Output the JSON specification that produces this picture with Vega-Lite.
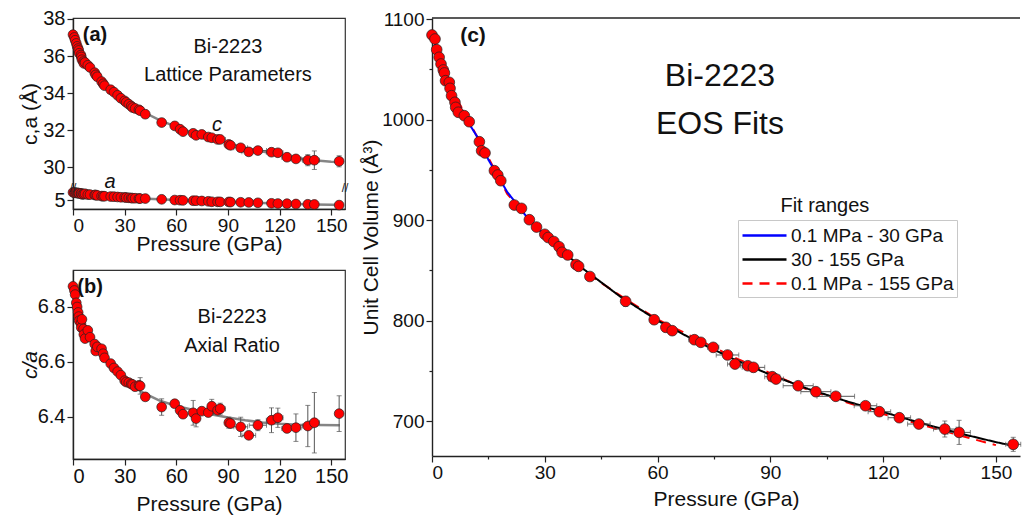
{
  "$schema": "https://vega.github.io/schema/vega-lite/v6.json",
  "padding": {"left": 18, "top": 8, "right": 0, "bottom": 0},
  "background": "white",
  "config": {
    "font": "Liberation Sans",
    "view": {"stroke": "#333333", "strokeWidth": 1.2},
    "axis": {"grid": false, "domainColor": "#222222", "domainWidth": 1.4, "tickColor": "#222222", "tickWidth": 1.2, "tickSize": 6, "labelColor": "#111111", "titleColor": "#111111", "labelFontSize": 20, "titleFontSize": 21, "titleFontWeight": "normal", "labelPadding": 2, "labelFont": "Liberation Sans", "titleFont": "Liberation Sans", "labelOverlap": false}
  },
  "datasets": {
    "pts": [
      {"P":0,"V":1084.1,"c":37.15,"a":5.404,"r":6.875},
      {"P":0.8,"V":1080.1,"c":37.0,"a":5.394,"r":6.86},
      {"P":1.25,"V":1069.5,"c":36.85,"a":5.384,"r":6.845},
      {"P":1.9,"V":1061.9,"c":36.68,"a":5.382,"r":6.815},
      {"P":2.4,"V":1055.2,"c":36.52,"a":5.371,"r":6.8},
      {"P":3.0,"V":1049.3,"c":36.4,"a":5.369,"r":6.78},
      {"P":3.3,"V":1046.3,"c":36.3,"a":5.366,"r":6.765},
      {"P":3.6,"V":1038.6,"c":36.15,"a":5.356,"r":6.75},
      {"P":4.6,"V":1037.0,"c":36.05,"a":5.349,"r":6.74},
      {"P":4.8,"V":1031.0,"c":35.95,"a":5.346,"r":6.725},
      {"P":5.2,"V":1023.7,"c":35.8,"a":5.3,"r":6.755},
      {"P":6.1,"V":1017.1,"c":35.7,"a":5.312,"r":6.72},
      {"P":6.3,"V":1012.1,"c":35.6,"a":5.313,"r":6.7},
      {"P":7.0,"V":1007.2,"c":35.65,"a":5.333,"r":6.685},
      {"P":8.6,"V":1003.8,"c":35.5,"a":5.287,"r":6.715},
      {"P":9.9,"V":997.8,"c":35.38,"a":5.288,"r":6.69},
      {"P":12.6,"V":977.9,"c":35.1,"a":5.266,"r":6.665},
      {"P":13.2,"V":968.9,"c":34.98,"a":5.268,"r":6.64},
      {"P":14.1,"V":966.7,"c":34.88,"a":5.241,"r":6.655},
      {"P":16.6,"V":949.1,"c":34.62,"a":5.208,"r":6.648},
      {"P":17.5,"V":944.8,"c":34.5,"a":5.204,"r":6.63},
      {"P":18.3,"V":939.1,"c":34.4,"a":5.2,"r":6.615},
      {"P":21.9,"V":914.9,"c":34.18,"a":5.184,"r":6.594},
      {"P":23.8,"V":911.6,"c":34.05,"a":5.176,"r":6.578},
      {"P":25.9,"V":900.3,"c":33.88,"a":5.161,"r":6.565},
      {"P":27.8,"V":893.0,"c":33.72,"a":5.146,"r":6.552},
      {"P":30.0,"V":885.8,"c":33.58,"a":5.141,"r":6.532},
      {"P":30.9,"V":882.6,"c":33.5,"a":5.133,"r":6.527},
      {"P":32.4,"V":878.6,"c":33.4,"a":5.119,"r":6.525},
      {"P":33.8,"V":873.4,"c":33.3,"a":5.107,"r":6.52},
      {"P":34.6,"V":867.9,"c":33.22,"a":5.097,"r":6.518},
      {"P":36.1,"V":865.2,"c":33.17,"a":5.095,"r":6.51},
      {"P":38.3,"V":855.7,"c":33.1,"a":5.081,"r":6.515},
      {"P":39.0,"V":853.9,"c":33.05,"a":5.074,"r":6.513},
      {"P":42.0,"V":843.8,"c":32.86,"a":5.077,"r":6.473},
      {"P":51.5,"V":819.1,"c":32.41,"a":5.036,"r":6.436},
      {"P":59.1,"V":800.8,"c":32.23,"a":4.998,"r":6.448},
      {"P":62.2,"V":793.2,"c":32.05,"a":4.989,"r":6.424},
      {"P":63.9,"V":789.9,"c":31.92,"a":4.98,"r":6.41},
      {"P":69.8,"V":780.9,"c":31.83,"a":4.962,"r":6.415},
      {"P":71.5,"V":778.3,"c":31.72,"a":4.961,"r":6.394},
      {"P":74.8,"V":773.3,"c":31.77,"a":4.948,"r":6.421},
      {"P":78.6,"V":765.7,"c":31.63,"a":4.93,"r":6.416},
      {"P":80.6,"V":756.7,"c":31.59,"a":4.906,"r":6.439},
      {"P":84.0,"V":755.0,"c":31.5,"a":4.903,"r":6.424},
      {"P":85.5,"V":753.4,"c":31.5,"a":4.899,"r":6.43},
      {"P":90.5,"V":744.1,"c":31.23,"a":4.896,"r":6.379},
      {"P":91.5,"V":741.8,"c":31.18,"a":4.89,"r":6.376},
      {"P":97.4,"V":735.1,"c":31.05,"a":4.879,"r":6.364},
      {"P":102.1,"V":729.2,"c":30.83,"a":4.868,"r":6.333},
      {"P":107.4,"V":724.6,"c":30.9,"a":4.851,"r":6.37},
      {"P":115.3,"V":715.2,"c":30.81,"a":4.823,"r":6.388},
      {"P":119.0,"V":709.3,"c":30.78,"a":4.812,"r":6.397},
      {"P":124.3,"V":703.3,"c":30.54,"a":4.803,"r":6.358},
      {"P":129.5,"V":697.0,"c":30.45,"a":4.787,"r":6.361},
      {"P":136.4,"V":692.0,"c":30.38,"a":4.772,"r":6.367},
      {"P":140.2,"V":688.7,"c":30.38,"a":4.763,"r":6.379},
      {"P":154.6,"V":676.8,"c":30.32,"a":4.729,"r":6.412}
    ],
    "err": [
      {"P":39.0,"Plo":38,"Phi":40,"V":853.9,"Vlo":851.9,"Vhi":855.9,"c":33.05,"clo":33.0,"chi":33.1,"r":6.513,"rlo":6.483,"rhi":6.543},
      {"P":51.5,"Plo":50.5,"Phi":52.5,"V":819.1,"Vlo":814,"Vhi":824,"c":32.41,"clo":32.36,"chi":32.46,"r":6.436,"rlo":6.406,"rhi":6.466},
      {"P":59.1,"Plo":58.1,"Phi":60.1,"V":800.8,"Vlo":798.8,"Vhi":802.8,"c":32.23,"clo":32.2,"chi":32.26,"r":6.448,"rlo":6.438,"rhi":6.458},
      {"P":69.8,"Plo":68.3,"Phi":71.3,"V":780.9,"Vlo":776.9,"Vhi":784.9,"c":31.83,"clo":31.78,"chi":31.88,"r":6.415,"rlo":6.37,"rhi":6.46},
      {"P":71.5,"Plo":70.5,"Phi":72.5,"V":778.3,"Vlo":776.3,"Vhi":780.3,"c":31.72,"clo":31.69,"chi":31.75,"r":6.394,"rlo":6.364,"rhi":6.424},
      {"P":74.8,"Plo":73.3,"Phi":76.3,"V":773.3,"Vlo":771.3,"Vhi":775.3,"c":31.77,"clo":31.74,"chi":31.8,"r":6.421,"rlo":6.411,"rhi":6.431},
      {"P":78.6,"Plo":75.6,"Phi":81.6,"V":765.7,"Vlo":762.7,"Vhi":768.7,"c":31.63,"clo":31.6,"chi":31.66,"r":6.416,"rlo":6.401,"rhi":6.431},
      {"P":80.6,"Plo":78.6,"Phi":82.6,"V":756.7,"Vlo":753.7,"Vhi":759.7,"c":31.59,"clo":31.56,"chi":31.62,"r":6.439,"rlo":6.414,"rhi":6.464},
      {"P":84.0,"Plo":82,"Phi":86,"V":755.0,"Vlo":753,"Vhi":757,"c":31.5,"clo":31.47,"chi":31.53,"r":6.424,"rlo":6.414,"rhi":6.434},
      {"P":85.5,"Plo":82.5,"Phi":88.5,"V":753.4,"Vlo":751.4,"Vhi":755.4,"c":31.5,"clo":31.47,"chi":31.53,"r":6.43,"rlo":6.41,"rhi":6.45},
      {"P":90.5,"Plo":88.5,"Phi":92.5,"V":744.1,"Vlo":742.1,"Vhi":746.1,"c":31.23,"clo":31.2,"chi":31.26,"r":6.379,"rlo":6.359,"rhi":6.399},
      {"P":91.5,"Plo":89.5,"Phi":93.5,"V":741.8,"Vlo":739.8,"Vhi":743.8,"c":31.18,"clo":31.15,"chi":31.21,"r":6.376,"rlo":6.361,"rhi":6.391},
      {"P":97.4,"Plo":93.4,"Phi":101.4,"V":735.1,"Vlo":733.1,"Vhi":737.1,"c":31.05,"clo":31.02,"chi":31.08,"r":6.364,"rlo":6.329,"rhi":6.399},
      {"P":102.1,"Plo":98.1,"Phi":106.1,"V":729.2,"Vlo":727.2,"Vhi":731.2,"c":30.83,"clo":30.8,"chi":30.86,"r":6.333,"rlo":6.323,"rhi":6.343},
      {"P":107.4,"Plo":102.4,"Phi":112.4,"V":724.6,"Vlo":722.6,"Vhi":726.6,"c":30.9,"clo":30.87,"chi":30.93,"r":6.37,"rlo":6.35,"rhi":6.39},
      {"P":115.3,"Plo":112.3,"Phi":118.3,"V":715.2,"Vlo":712.2,"Vhi":718.2,"c":30.81,"clo":30.73,"chi":30.89,"r":6.388,"rlo":6.343,"rhi":6.433},
      {"P":119.0,"Plo":116,"Phi":122,"V":709.3,"Vlo":707.3,"Vhi":711.3,"c":30.78,"clo":30.72,"chi":30.84,"r":6.397,"rlo":6.362,"rhi":6.432},
      {"P":124.3,"Plo":121.3,"Phi":127.3,"V":703.3,"Vlo":701.3,"Vhi":705.3,"c":30.54,"clo":30.5,"chi":30.58,"r":6.358,"rlo":6.348,"rhi":6.368},
      {"P":129.5,"Plo":126.5,"Phi":132.5,"V":697.0,"Vlo":693,"Vhi":701,"c":30.45,"clo":30.39,"chi":30.51,"r":6.361,"rlo":6.311,"rhi":6.411},
      {"P":136.4,"Plo":133.4,"Phi":139.4,"V":692.0,"Vlo":684,"Vhi":700,"c":30.38,"clo":30.08,"chi":30.68,"r":6.367,"rlo":6.292,"rhi":6.442},
      {"P":140.2,"Plo":137.2,"Phi":143.2,"V":688.7,"Vlo":676.7,"Vhi":700.7,"c":30.38,"clo":29.88,"chi":30.88,"r":6.379,"rlo":6.269,"rhi":6.489},
      {"P":154.6,"Plo":152.6,"Phi":156.6,"V":676.8,"Vlo":669.8,"Vhi":683.8,"c":30.32,"clo":30.02,"chi":30.62,"r":6.412,"rlo":6.347,"rhi":6.477}
    ],
    "fitA": [
      {"P":0,"c":37.05,"a":5.4},{"P":3,"c":36.45,"a":5.365},{"P":6,"c":35.95,"a":5.33},
      {"P":10,"c":35.4,"a":5.29},{"P":15,"c":34.85,"a":5.245},{"P":20,"c":34.35,"a":5.2},
      {"P":25,"c":33.95,"a":5.165},{"P":30,"c":33.6,"a":5.135},{"P":35,"c":33.3,"a":5.105},
      {"P":40,"c":33.02,"a":5.08},{"P":50,"c":32.55,"a":5.04},{"P":60,"c":32.18,"a":5.0},
      {"P":70,"c":31.85,"a":4.96},{"P":80,"c":31.57,"a":4.925},{"P":90,"c":31.3,"a":4.895},
      {"P":100,"c":31.05,"a":4.865},{"P":110,"c":30.85,"a":4.84},{"P":120,"c":30.68,"a":4.81},
      {"P":130,"c":30.5,"a":4.785},{"P":140,"c":30.38,"a":4.765},{"P":150,"c":30.3,"a":4.745},
      {"P":155,"c":30.28,"a":4.735}
    ],
    "fitB": [
      {"P":0,"r":6.79},{"P":5,"r":6.735},{"P":10,"r":6.69},{"P":15,"r":6.645},{"P":20,"r":6.605},
      {"P":25,"r":6.567},{"P":30,"r":6.535},{"P":40,"r":6.49},{"P":50,"r":6.46},{"P":60,"r":6.44},
      {"P":70,"r":6.425},{"P":80,"r":6.41},{"P":90,"r":6.398},{"P":100,"r":6.388},{"P":110,"r":6.38},
      {"P":120,"r":6.375},{"P":130,"r":6.372},{"P":155,"r":6.37}
    ],
    "fitC": [
      {"P":0,"V":1084,"range":"0.1 MPa - 30 GPa"},{"P":2,"V":1062,"range":"0.1 MPa - 30 GPa"},
      {"P":4,"V":1042,"range":"0.1 MPa - 30 GPa"},{"P":6,"V":1024,"range":"0.1 MPa - 30 GPa"},
      {"P":8,"V":1008,"range":"0.1 MPa - 30 GPa"},{"P":10,"V":995,"range":"0.1 MPa - 30 GPa"},
      {"P":12,"V":983,"range":"0.1 MPa - 30 GPa"},{"P":15,"V":960,"range":"0.1 MPa - 30 GPa"},
      {"P":20,"V":928,"range":"0.1 MPa - 30 GPa"},{"P":25,"V":904,"range":"0.1 MPa - 30 GPa"},
      {"P":30,"V":885,"range":"0.1 MPa - 30 GPa"},
      {"P":30,"V":885,"range":"30 - 155 GPa"},{"P":35,"V":868,"range":"30 - 155 GPa"},
      {"P":40,"V":852,"range":"30 - 155 GPa"},{"P":45,"V":838,"range":"30 - 155 GPa"},
      {"P":50,"V":824,"range":"30 - 155 GPa"},{"P":55,"V":812,"range":"30 - 155 GPa"},
      {"P":60,"V":800,"range":"30 - 155 GPa"},{"P":70,"V":780,"range":"30 - 155 GPa"},
      {"P":80,"V":762,"range":"30 - 155 GPa"},{"P":90,"V":746,"range":"30 - 155 GPa"},
      {"P":100,"V":732,"range":"30 - 155 GPa"},{"P":110,"V":720,"range":"30 - 155 GPa"},
      {"P":120,"V":709,"range":"30 - 155 GPa"},{"P":130,"V":698,"range":"30 - 155 GPa"},
      {"P":140,"V":688,"range":"30 - 155 GPa"},{"P":150,"V":679,"range":"30 - 155 GPa"},
      {"P":155,"V":675,"range":"30 - 155 GPa"},
      {"P":0,"V":1083,"range":"0.1 MPa - 155 GPa"},{"P":5,"V":1032,"range":"0.1 MPa - 155 GPa"},
      {"P":10,"V":997,"range":"0.1 MPa - 155 GPa"},{"P":15,"V":962,"range":"0.1 MPa - 155 GPa"},
      {"P":20,"V":926,"range":"0.1 MPa - 155 GPa"},{"P":30,"V":884,"range":"0.1 MPa - 155 GPa"},
      {"P":40,"V":850,"range":"0.1 MPa - 155 GPa"},{"P":50,"V":825,"range":"0.1 MPa - 155 GPa"},
      {"P":60,"V":801,"range":"0.1 MPa - 155 GPa"},{"P":80,"V":764,"range":"0.1 MPa - 155 GPa"},
      {"P":100,"V":731,"range":"0.1 MPa - 155 GPa"},{"P":120,"V":707,"range":"0.1 MPa - 155 GPa"},
      {"P":140,"V":686,"range":"0.1 MPa - 155 GPa"},{"P":150,"V":676,"range":"0.1 MPa - 155 GPa"}
    ]
  },
  "spacing": 11,
  "hconcat": [
    {
      "bounds": "flush",
      "spacing": 61,
      "vconcat": [
        {
          "width": 272,
          "height": 191,
          "layer": [
            {
              "data": {"name": "fitA"},
              "mark": {"type": "line", "color": "#858585", "strokeWidth": 2.5},
              "encoding": {
                "x": {"field": "P", "type": "quantitative", "title": "Pressure (GPa)", "scale": {"domain": [0, 158], "nice": false}, "axis": {"values": [0, 30, 60, 90, 120, 150], "tickCount": 10, "format": "d", "labelFontSize": 19, "labelPadding": 1, "titleY": 35, "titleBaseline": "middle", "labelOverlap": false}},
                "y": {"field": "c", "type": "quantitative", "title": "c,a (Å)", "scale": {"domain": [4.52, 5.64, 28.88, 38.05], "range": [191, 170, 170, 0], "nice": false, "zero": false}, "axis": {"values": [5, 30, 32, 34, 36, 38], "tickCount": 12, "format": "d", "titleX": -43, "titleBaseline": "middle", "labelOverlap": false, "labelFlush": false}}
              }
            },
            {
              "data": {"name": "fitA"},
              "mark": {"type": "line", "color": "#858585", "strokeWidth": 2.5},
              "encoding": {
                "x": {"field": "P", "type": "quantitative", "title": "Pressure (GPa)"},
                "y": {"field": "a", "type": "quantitative", "title": "c,a (Å)"}
              }
            },
            {
              "data": {"name": "err"},
              "mark": {"type": "errorbar", "ticks": {"size": 5, "color": "#555555"}, "rule": {"color": "#555555", "strokeWidth": 1}},
              "encoding": {
                "x": {"field": "P", "type": "quantitative", "title": "Pressure (GPa)"},
                "y": {"field": "clo", "type": "quantitative", "title": "c,a (Å)"},
                "y2": {"field": "chi"}
              }
            },
            {
              "data": {"name": "err"},
              "mark": {"type": "errorbar", "ticks": {"size": 5, "color": "#555555"}, "rule": {"color": "#555555", "strokeWidth": 1}},
              "encoding": {
                "x": {"field": "Plo", "type": "quantitative", "title": "Pressure (GPa)"},
                "x2": {"field": "Phi"},
                "y": {"field": "c", "type": "quantitative", "title": "c,a (Å)"}
              }
            },
            {
              "data": {"name": "pts"},
              "mark": {"type": "point", "shape": "circle", "filled": true, "fill": "#ff0000", "stroke": "#222222", "strokeWidth": 0.7, "size": 95, "opacity": 1},
              "encoding": {
                "x": {"field": "P", "type": "quantitative", "title": "Pressure (GPa)"},
                "y": {"field": "c", "type": "quantitative", "title": "c,a (Å)"}
              }
            },
            {
              "data": {"name": "pts"},
              "mark": {"type": "point", "shape": "circle", "filled": true, "fill": "#ff0000", "stroke": "#222222", "strokeWidth": 0.7, "size": 95, "opacity": 1},
              "encoding": {
                "x": {"field": "P", "type": "quantitative", "title": "Pressure (GPa)"},
                "y": {"field": "a", "type": "quantitative", "title": "c,a (Å)"}
              }
            },
            {
              "data": {"values": [{"P": 90, "y": 36.5, "t": "Bi-2223"}, {"P": 90, "y": 34.96, "t": "Lattice Parameters"}]},
              "mark": {"type": "text", "fontSize": 20, "color": "#111111", "align": "center", "baseline": "middle"},
              "encoding": {
                "x": {"field": "P", "type": "quantitative", "title": "Pressure (GPa)"},
                "y": {"field": "y", "type": "quantitative", "title": "c,a (Å)"},
                "text": {"field": "t"}
              }
            },
            {
              "data": {"values": [{"P": 12.8, "y": 37.14, "t": "(a)"}]},
              "mark": {"type": "text", "fontSize": 20, "fontWeight": "bold", "color": "#111111", "align": "center", "baseline": "middle"},
              "encoding": {
                "x": {"field": "P", "type": "quantitative", "title": "Pressure (GPa)"},
                "y": {"field": "y", "type": "quantitative", "title": "c,a (Å)"},
                "text": {"field": "t"}
              }
            },
            {
              "data": {"values": [{"P": 83.7, "y": 32.29, "t": "c"}, {"P": 21.5, "y": 29.2, "t": "a"}]},
              "mark": {"type": "text", "fontSize": 20, "fontStyle": "italic", "color": "#111111", "align": "center", "baseline": "middle"},
              "encoding": {
                "x": {"field": "P", "type": "quantitative", "title": "Pressure (GPa)"},
                "y": {"field": "y", "type": "quantitative", "title": "c,a (Å)"},
                "text": {"field": "t"}
              }
            },
            {
              "data": {"values": [{"P": 0, "y": 17, "t": "//"}, {"P": 158, "y": 17, "t": "//"}]},
              "mark": {"type": "text", "fontSize": 12, "color": "#222222", "align": "center", "baseline": "middle"},
              "encoding": {
                "x": {"field": "P", "type": "quantitative", "title": "Pressure (GPa)"},
                "y": {"field": "y", "type": "quantitative", "title": "c,a (Å)"},
                "text": {"field": "t"}
              }
            }
          ]
        },
        {
          "width": 272,
          "height": 189,
          "layer": [
            {
              "data": {"name": "fitB"},
              "mark": {"type": "line", "color": "#858585", "strokeWidth": 2.5},
              "encoding": {
                "x": {"field": "P", "type": "quantitative", "title": "Pressure (GPa)", "scale": {"domain": [0, 158], "nice": false}, "axis": {"values": [0, 30, 60, 90, 120, 150], "tickCount": 10, "format": "d", "labelPadding": 1, "titleY": 45, "titleBaseline": "middle", "labelOverlap": false}},
                "y": {"field": "r", "type": "quantitative", "title": "c/a", "scale": {"domain": [6.247, 6.9345], "nice": false, "zero": false}, "axis": {"values": [6.4, 6.6, 6.8], "tickCount": 8, "format": ".1f", "titleX": -43, "titleBaseline": "middle", "titleFontStyle": "italic", "labelOverlap": false}}
              }
            },
            {
              "data": {"name": "err"},
              "mark": {"type": "errorbar", "ticks": {"size": 5, "color": "#555555"}, "rule": {"color": "#555555", "strokeWidth": 1}},
              "encoding": {
                "x": {"field": "P", "type": "quantitative", "title": "Pressure (GPa)"},
                "y": {"field": "rlo", "type": "quantitative", "title": "c/a"},
                "y2": {"field": "rhi"}
              }
            },
            {
              "data": {"name": "err"},
              "mark": {"type": "errorbar", "ticks": {"size": 5, "color": "#555555"}, "rule": {"color": "#555555", "strokeWidth": 1}},
              "encoding": {
                "x": {"field": "Plo", "type": "quantitative", "title": "Pressure (GPa)"},
                "x2": {"field": "Phi"},
                "y": {"field": "r", "type": "quantitative", "title": "c/a"}
              }
            },
            {
              "data": {"name": "pts"},
              "mark": {"type": "point", "shape": "circle", "filled": true, "fill": "#ff0000", "stroke": "#222222", "strokeWidth": 0.7, "size": 95, "opacity": 1},
              "encoding": {
                "x": {"field": "P", "type": "quantitative", "title": "Pressure (GPa)"},
                "y": {"field": "r", "type": "quantitative", "title": "c/a"}
              }
            },
            {
              "data": {"values": [{"P": 92.4, "y": 6.764, "t": "Bi-2223"}, {"P": 92.4, "y": 6.658, "t": "Axial Ratio"}]},
              "mark": {"type": "text", "fontSize": 20, "color": "#111111", "align": "center", "baseline": "middle"},
              "encoding": {
                "x": {"field": "P", "type": "quantitative", "title": "Pressure (GPa)"},
                "y": {"field": "y", "type": "quantitative", "title": "c/a"},
                "text": {"field": "t"}
              }
            },
            {
              "data": {"values": [{"P": 9.9, "y": 6.873, "t": "(b)"}]},
              "mark": {"type": "text", "fontSize": 20, "fontWeight": "bold", "color": "#111111", "align": "center", "baseline": "middle"},
              "encoding": {
                "x": {"field": "P", "type": "quantitative", "title": "Pressure (GPa)"},
                "y": {"field": "y", "type": "quantitative", "title": "c/a"},
                "text": {"field": "t"}
              }
            }
          ]
        }
      ]
    },
    {
      "width": 588,
      "height": 438,
      "view": {"stroke": null},
      "layer": [
        {
          "data": {"values": [{"y": 1101}]},
          "mark": {"type": "rule", "color": "#222222", "strokeWidth": 1.4},
          "encoding": {
            "y": {"field": "y", "type": "quantitative", "title": "Unit Cell Volume (Å³)", "scale": {"domain": [665.2, 1101], "nice": false, "zero": false}, "axis": {"values": [700, 750, 800, 850, 900, 950, 1000, 1050, 1100], "tickCount": 20, "format": "d", "labelExpr": "datum.value % 100 === 0 ? datum.label : ''", "tickSize": {"condition": {"test": "datum.value % 100 !== 0", "value": 3}, "value": 6}, "labelFontSize": 19, "titleX": -61, "titleBaseline": "middle", "labelOverlap": false}}
          }
        },
        {
          "data": {"name": "fitC"},
          "transform": [{"filter": "datum.range === '0.1 MPa - 155 GPa'"}],
          "mark": {"type": "line", "strokeWidth": 2},
          "encoding": {
            "x": {"field": "P", "type": "quantitative", "title": "Pressure (GPa)", "scale": {"domain": [0, 156.4], "nice": false}, "axis": {"values": [0, 15, 30, 45, 60, 75, 90, 105, 120, 135, 150], "tickCount": 20, "format": "d", "labelExpr": "datum.value % 30 === 0 ? datum.label : ''", "tickSize": {"condition": {"test": "datum.value % 30 !== 0", "value": 3}, "value": 6}, "labelFontSize": 19, "labelPadding": 1, "titleY": 43, "titleBaseline": "middle", "labelOverlap": false}},
            "y": {"field": "V", "type": "quantitative", "title": "Unit Cell Volume (Å³)"},
            "color": {"field": "range", "type": "nominal", "scale": {"domain": ["0.1 MPa - 30 GPa", "30 - 155 GPa", "0.1 MPa - 155 GPa"], "range": ["#0000ff", "#000000", "#ff0000"]}, "legend": {"title": null, "orient": "none", "legendX": 665, "legendY": 202, "strokeColor": "#c8c8c8", "fillColor": "white", "padding": 3, "symbolType": "M-1,0H3", "symbolSize": 484, "symbolStrokeWidth": 2.5, "labelFontSize": 19, "labelColor": "#111111", "rowPadding": 1, "labelLimit": 300, "labelOffset": 25}},
            "strokeDash": {"field": "range", "type": "nominal", "scale": {"domain": ["0.1 MPa - 30 GPa", "30 - 155 GPa", "0.1 MPa - 155 GPa"], "range": [[1, 0], [1, 0], [10, 7]]}, "legend": {"title": null, "orient": "none", "legendX": 665, "legendY": 202, "strokeColor": "#c8c8c8", "fillColor": "white", "padding": 3, "symbolType": "M-1,0H3", "symbolSize": 484, "symbolStrokeWidth": 2.5, "labelFontSize": 19, "labelColor": "#111111", "rowPadding": 1, "labelLimit": 300, "labelOffset": 25}}
          }
        },
        {
          "data": {"name": "fitC"},
          "transform": [{"filter": "datum.range !== '0.1 MPa - 155 GPa'"}],
          "mark": {"type": "line", "strokeWidth": 2},
          "encoding": {
            "x": {"field": "P", "type": "quantitative", "title": "Pressure (GPa)"},
            "y": {"field": "V", "type": "quantitative", "title": "Unit Cell Volume (Å³)"},
            "color": {"field": "range", "type": "nominal"},
            "strokeDash": {"field": "range", "type": "nominal"}
          }
        },
        {
          "data": {"name": "err"},
          "mark": {"type": "errorbar", "ticks": {"size": 5, "color": "#555555"}, "rule": {"color": "#555555", "strokeWidth": 1}},
          "encoding": {
            "x": {"field": "P", "type": "quantitative", "title": "Pressure (GPa)"},
            "y": {"field": "Vlo", "type": "quantitative", "title": "Unit Cell Volume (Å³)"},
            "y2": {"field": "Vhi"}
          }
        },
        {
          "data": {"name": "err"},
          "mark": {"type": "errorbar", "ticks": {"size": 5, "color": "#555555"}, "rule": {"color": "#555555", "strokeWidth": 1}},
          "encoding": {
            "x": {"field": "Plo", "type": "quantitative", "title": "Pressure (GPa)"},
            "x2": {"field": "Phi"},
            "y": {"field": "V", "type": "quantitative", "title": "Unit Cell Volume (Å³)"}
          }
        },
        {
          "data": {"name": "pts"},
          "mark": {"type": "point", "shape": "circle", "filled": true, "fill": "#ff0000", "stroke": "#222222", "strokeWidth": 0.7, "size": 115, "opacity": 1},
          "encoding": {
            "x": {"field": "P", "type": "quantitative", "title": "Pressure (GPa)"},
            "y": {"field": "V", "type": "quantitative", "title": "Unit Cell Volume (Å³)"}
          }
        },
        {
          "data": {"values": [{"P": 76.6, "y": 1043.3, "t": "Bi-2223"}, {"P": 76.6, "y": 995.5, "t": "EOS Fits"}]},
          "mark": {"type": "text", "fontSize": 32, "color": "#111111", "align": "center", "baseline": "middle"},
          "encoding": {
            "x": {"field": "P", "type": "quantitative", "title": "Pressure (GPa)"},
            "y": {"field": "y", "type": "quantitative", "title": "Unit Cell Volume (Å³)"},
            "text": {"field": "t"}
          }
        },
        {
          "data": {"values": [{"P": 104.5, "y": 914, "t": "Fit ranges"}]},
          "mark": {"type": "text", "fontSize": 20, "color": "#111111", "align": "center", "baseline": "middle"},
          "encoding": {
            "x": {"field": "P", "type": "quantitative", "title": "Pressure (GPa)"},
            "y": {"field": "y", "type": "quantitative", "title": "Unit Cell Volume (Å³)"},
            "text": {"field": "t"}
          }
        },
        {
          "data": {"values": [{"P": 10.9, "y": 1083, "t": "(c)"}]},
          "mark": {"type": "text", "fontSize": 21, "fontWeight": "bold", "color": "#111111", "align": "center", "baseline": "middle"},
          "encoding": {
            "x": {"field": "P", "type": "quantitative", "title": "Pressure (GPa)"},
            "y": {"field": "y", "type": "quantitative", "title": "Unit Cell Volume (Å³)"},
            "text": {"field": "t"}
          }
        }
      ]
    }
  ]
}
